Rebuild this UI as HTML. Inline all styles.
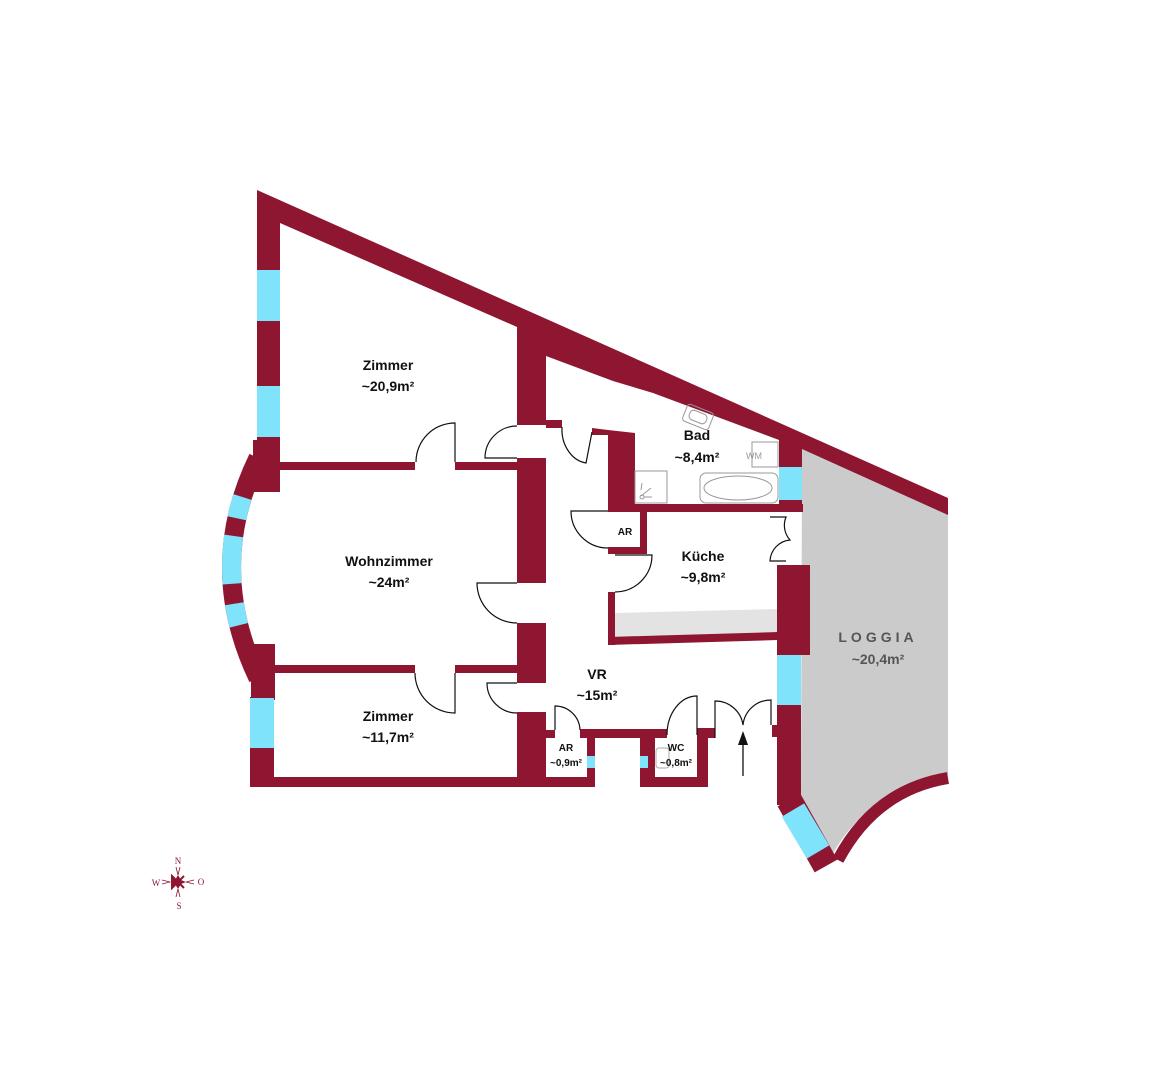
<!DOCTYPE html>
<html><head><meta charset="utf-8"><style>
html,body{margin:0;padding:0;background:#fff}
svg{display:block}
text{font-family:"Liberation Sans",sans-serif;font-weight:bold;text-anchor:middle;fill:#111}
</style></head><body>
<svg width="1169" height="1079" viewBox="0 0 1169 1079" xmlns="http://www.w3.org/2000/svg">
<defs><style>.w{fill:#8e1631}.g{fill:#7fe3fb}.d{fill:none;stroke:#111;stroke-width:1.2}</style></defs>
<!-- loggia -->
<path d="M802 448 L948 514 L948 775 Q868 790 832 855 L801 800 Z" fill="#cbcbcb"/>
<!-- diagonal top wall -->
<polygon class="w" points="257,190 948,498 948,515 802,449 779,440 653,393 613,381 546,356 546,425 517,425 517,327 280,223 280,270 257,270"/>
<!-- left wall -->
<rect class="w" x="257" y="270" width="23" height="222"/>
<rect class="g" x="257" y="270" width="23" height="51"/>
<rect class="g" x="257" y="386" width="23" height="51"/>
<rect class="w" x="253" y="440" width="24" height="52"/>
<!-- bay -->
<path d="M258 458 Q205 567 258 678" fill="none" stroke="#8e1631" stroke-width="19"/>
<path d="M258 458 Q205 567 258 678" fill="none" stroke="#7fe3fb" stroke-width="19" stroke-dasharray="0 42 22 18 48 20 22 200"/>
<rect class="w" x="251" y="644" width="24" height="56"/>
<rect class="w" x="250" y="697" width="24" height="90"/>
<rect class="g" x="250" y="698" width="24" height="50"/>
<!-- horizontal walls -->
<rect class="w" x="277" y="462" width="138" height="8"/>
<rect class="w" x="455" y="462" width="62" height="8"/>
<rect class="w" x="275" y="665" width="140" height="8"/>
<rect class="w" x="455" y="665" width="62" height="8"/>
<rect class="w" x="250" y="777" width="345" height="10"/>
<!-- central wall -->
<rect class="w" x="517" y="458" width="29" height="125"/>
<rect class="w" x="517" y="623" width="29" height="60"/>
<rect class="w" x="517" y="712" width="29" height="75"/>
<!-- doors left -->
<path class="d" d="M455 462 L455 423 A39 39 0 0 0 416 462"/>
<path class="d" d="M455 673 L455 713 A40 40 0 0 1 415 673"/>
<path class="d" d="M517 458 L485 458 A32 32 0 0 1 517 426"/>
<path class="d" d="M517 583 L477 583 A40 40 0 0 0 517 623"/>
<path class="d" d="M517 683 L487 683 A30 30 0 0 0 517 713"/>
<!-- bad walls -->
<rect class="w" x="546" y="420" width="16" height="8"/>
<polygon class="w" points="592,428 608,430 635,433 635,512 608,512 608,435 592,435"/>
<path class="d" d="M562 427 A28 34 0 0 0 586 463 L592 432"/>
<rect class="w" x="608" y="504" width="195" height="8"/>
<rect class="w" x="779" y="437" width="23" height="75"/>
<rect class="g" x="779" y="467" width="23" height="33"/>
<!-- bad fixtures -->
<g fill="none" stroke="#999" stroke-width="1">
<rect x="684" y="408" width="28" height="18" rx="3" transform="rotate(22 698 417)"/>
<rect x="689" y="412" width="18" height="10" rx="4" transform="rotate(22 698 417)"/>
<rect x="752" y="442" width="26" height="25"/>
<rect x="700" y="473" width="78" height="30" rx="6"/>
<ellipse cx="738" cy="488" rx="34" ry="12"/>
<rect x="635" y="471" width="32" height="32"/>
<path d="M641 496 L651 488 M641 490 L642 483 M644 497 L652 497"/><circle cx="642" cy="497" r="2"/>
</g>
<text x="754" y="459" style="font-size:9px;font-weight:normal;fill:#999">WM</text>
<!-- AR -->
<rect class="w" x="640" y="504" width="7" height="50"/>
<rect class="w" x="608" y="547" width="39" height="7"/>
<path class="d" d="M608 511 L571 511 A37 37 0 0 0 608 548"/>
<!-- kitchen -->
<path class="d" d="M615 555 L652 555 A37 37 0 0 1 615 592"/>
<rect class="w" x="608" y="592" width="7" height="53"/>
<polygon fill="#e3e3e3" points="615,613 778,609 778,632 615,637"/>
<polygon class="w" points="608,637 778,632 778,640 608,645"/>
<path class="d" d="M770 517 L786 517 A22 22 0 0 0 790 540 A22 22 0 0 0 770 561 L786 561"/>
<rect class="w" x="777" y="565" width="33" height="90"/>
<rect class="g" x="777" y="655" width="24" height="50"/>
<rect class="w" x="777" y="705" width="24" height="100"/>
<!-- loggia bottom -->
<path d="M789 800 L826 866" stroke="#8e1631" stroke-width="26" fill="none"/>
<path d="M793 810 L818 852" stroke="#7fe3fb" stroke-width="26" fill="none"/>
<path d="M838 860 Q875 790 948 778" stroke="#8e1631" stroke-width="12" fill="none"/>
<!-- bottom small rooms -->
<rect class="w" x="546" y="730" width="9" height="8"/>
<rect class="w" x="580" y="729" width="87" height="9"/>
<rect class="w" x="587" y="729" width="8" height="58"/>
<rect class="g" x="587" y="756" width="8" height="12"/>
<path class="d" d="M555 730 L555 706 A25 25 0 0 1 580 730"/>
<rect class="w" x="640" y="735" width="15" height="52"/>
<rect class="g" x="640" y="756" width="8" height="12"/>
<rect class="w" x="640" y="777" width="68" height="10"/>
<rect class="w" x="697" y="728" width="11" height="59"/>
<rect class="w" x="697" y="728" width="18" height="10"/>
<path class="d" d="M697 735 L697 696 A30 39 0 0 0 667 735"/>
<rect x="656" y="748" width="13" height="20" rx="3" fill="none" stroke="#aaa"/>
<path class="d" d="M715 738 L715 701 A28 28 0 0 1 743 725 A28 28 0 0 1 771 700 L771 725"/>
<rect class="w" x="772" y="725" width="8" height="12"/>
<line x1="743" y1="776" x2="743" y2="740" stroke="#111" stroke-width="1.3"/>
<polygon points="743,731 738,745 748,745" fill="#111"/>
<!-- labels -->
<g style="font-size:14px">
<text x="388" y="370">Zimmer</text><text x="388" y="391">~20,9m²</text>
<text x="389" y="566">Wohnzimmer</text><text x="389" y="587">~24m²</text>
<text x="388" y="721">Zimmer</text><text x="388" y="742">~11,7m²</text>
<text x="697" y="440">Bad</text><text x="697" y="462">~8,4m²</text>
<text x="703" y="561">Küche</text><text x="703" y="582">~9,8m²</text>
<text x="597" y="679">VR</text><text x="597" y="700">~15m²</text>
<text x="878" y="642" style="fill:#555;letter-spacing:4px">LOGGIA</text>
<text x="878" y="664" style="fill:#555">~20,4m²</text>
</g>
<g style="font-size:10px">
<text x="625" y="535">AR</text>
<text x="566" y="751">AR</text><text x="566" y="766">~0,9m²</text>
<text x="676" y="751">WC</text><text x="676" y="766">~0,8m²</text>
</g>
<!-- compass -->
<g fill="#8e1631">
<polygon points="178,875 181,880 186,882 181,884 178,889 175,884 170,882 175,880"/>
<polygon points="172,876 178,882 184,876 178,882 184,888 178,882 172,888" stroke="#8e1631" stroke-width="2"/>
<path d="M176 867 L178 875 L180 867 M176 897 L178 889 L180 897 M162 880 L170 882 L162 884 M194 880 L186 882 L194 884" fill="none" stroke="#8e1631" stroke-width="0.8"/>
<text x="178" y="864" style="font-size:9px;font-family:'Liberation Serif',serif;font-weight:normal;fill:#8e1631">N</text>
<text x="179" y="909" style="font-size:9px;font-family:'Liberation Serif',serif;font-weight:normal;fill:#8e1631">S</text>
<text x="156" y="886" style="font-size:9px;font-family:'Liberation Serif',serif;font-weight:normal;fill:#8e1631">W</text>
<text x="201" y="885" style="font-size:9px;font-family:'Liberation Serif',serif;font-weight:normal;fill:#8e1631">O</text>
</g>
</svg>
</body></html>
